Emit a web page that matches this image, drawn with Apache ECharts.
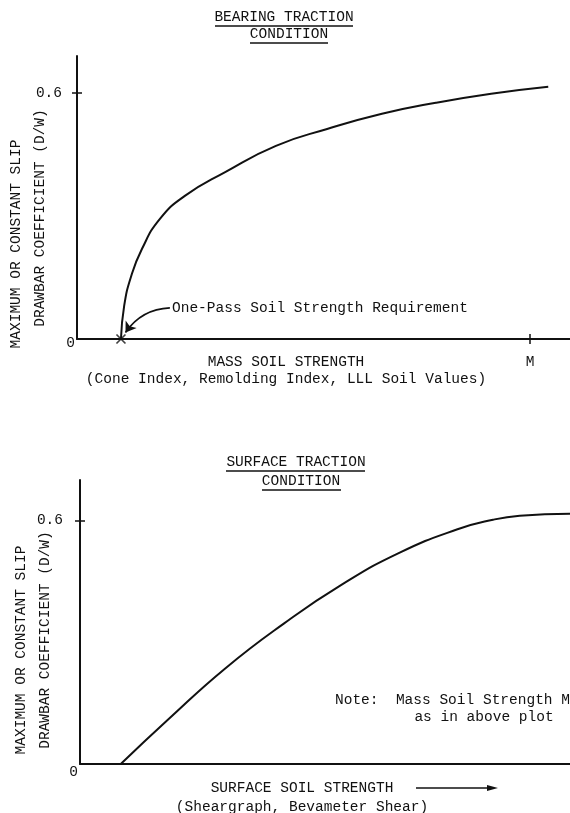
<!DOCTYPE html>
<html>
<head>
<meta charset="utf-8">
<script src="https://cdn.jsdelivr.net/npm/echarts@6/dist/echarts.min.js"></script>
<style>
html,body{margin:0;padding:0;background:#fff;}
#chart{width:570px;height:813px;}
</style>
</head>
<body>
<div id="chart"></div>
<script>
// Bearing traction curve (mass soil strength units, M = 10)
const bearingX = [0.97, 1.04, 1.19, 1.435, 1.83, 2.38, 3.27, 4.39, 5.52, 6.73, 7.92, 9.14, 10.4];
const bearingY = [0, 0.08, 0.151, 0.22, 0.293, 0.349, 0.407, 0.471, 0.512, 0.549, 0.576, 0.598, 0.615];
// Surface traction curve
const surfaceX = [0.9, 1.94, 3.2, 4.5, 5.78, 7.06, 8.32, 9.12, 9.71, 10.82];
const surfaceY = [0, 0.109, 0.235, 0.346, 0.442, 0.521, 0.578, 0.602, 0.612, 0.617];
const onePassX = 0.97;
const mValue = 10;
const yTickValues = [0.6];
const yLabelValues = [0, 0.6];
const arrowStart = [2.05, 0.076];
const arrowEnd = [1.07, 0.016];

const FONT = 'Liberation Mono';
const INK = '#111';
const zip = (xs, ys) => xs.map((x, i) => [x, ys[i]]);

function yLabelFmt(pad0, pad6) {
  return {
    show: true,
    customValues: yLabelValues,
    margin: 2,
    fontFamily: FONT, fontSize: 14.5, color: INK,
    formatter: v => v === 0 ? '{z|0}' : '{s|0.6}',
    rich: {
      z: {fontFamily: FONT, fontSize: 14.5, color: INK, padding: [pad0, 0, 0, 0]},
      s: {fontFamily: FONT, fontSize: 14.5, color: INK, padding: [0, pad6, 0, 0]}
    }
  };
}

function txt(x, y, text, opts) {
  return Object.assign({
    type: 'text', x: x, y: y,
    style: Object.assign({text: text, font: '14.5px "' + FONT + '"', fill: INK, align: 'center', verticalAlign: 'middle'}, (opts && opts.style) || {})
  }, opts && opts.rotation !== undefined ? {rotation: opts.rotation} : {});
}
function uline(x1, x2, y) {
  return {type: 'line', shape: {x1: x1, y1: y, x2: x2, y2: y}, style: {stroke: INK, lineWidth: 1.3}};
}

const chart = echarts.init(document.getElementById('chart'), null, {renderer: 'canvas'});
const axisLine = {show: true, lineStyle: {color: INK, width: 2}};

const option = {
  backgroundColor: '#fff',
  animation: false,
  grid: [
    {left: 77, right: 0, top: 56, bottom: 474, outerBoundsMode: 'none', containLabel: false},
    {left: 80, right: 0, top: 480, bottom: 49, outerBoundsMode: 'none', containLabel: false}
  ],
  xAxis: [
    {type: 'value', gridIndex: 0, min: 0, max: 10.88, axisLine: axisLine, splitLine: {show: false},
     axisTick: {show: true, customValues: [mValue], length: 5, lineStyle: {color: INK, width: 1.5}},
     axisLabel: {show: true, customValues: [mValue], formatter: () => 'M', margin: 16, fontFamily: FONT, fontSize: 14.5, color: INK}},
    {type: 'value', gridIndex: 0, min: 0, max: 10.88, position: 'bottom', axisLine: {show: false}, splitLine: {show: false},
     axisTick: {show: true, inside: true, customValues: [mValue], length: 5, lineStyle: {color: INK, width: 1.5}},
     axisLabel: {show: false}},
    {type: 'value', gridIndex: 1, min: 0, max: 10.82, axisLine: axisLine, splitLine: {show: false},
     axisTick: {show: false}, axisLabel: {show: false}}
  ],
  yAxis: [
    {type: 'value', gridIndex: 0, min: 0, max: 0.69, axisLine: axisLine, splitLine: {show: false},
     axisTick: {show: true, customValues: yTickValues, length: 5, lineStyle: {color: INK, width: 1.5}},
     axisLabel: yLabelFmt(8, 13)},
    {type: 'value', gridIndex: 0, min: 0, max: 0.69, position: 'left', axisLine: {show: false}, splitLine: {show: false},
     axisTick: {show: true, inside: true, customValues: yTickValues, length: 5, lineStyle: {color: INK, width: 1.5}},
     axisLabel: {show: false}},
    {type: 'value', gridIndex: 1, min: 0, max: 0.7, axisLine: axisLine, splitLine: {show: false},
     axisTick: {show: true, customValues: yTickValues, length: 5, lineStyle: {color: INK, width: 1.5}},
     axisLabel: yLabelFmt(16, 15)},
    {type: 'value', gridIndex: 1, min: 0, max: 0.7, position: 'left', axisLine: {show: false}, splitLine: {show: false},
     axisTick: {show: true, inside: true, customValues: yTickValues, length: 5, lineStyle: {color: INK, width: 1.5}},
     axisLabel: {show: false}}
  ],
  series: [
    {type: 'line', name: 'Bearing', xAxisIndex: 0, yAxisIndex: 0, data: zip(bearingX, bearingY),
     smooth: 0.5, showSymbol: false, lineStyle: {color: INK, width: 2}, z: 5},
    {type: 'scatter', xAxisIndex: 0, yAxisIndex: 0, data: [[onePassX, 0]],
     symbol: 'path://M0,0L10,10M10,0L0,10', symbolSize: 9,
     itemStyle: {color: 'none', borderColor: INK, borderWidth: 1.7}, z: 6},
    {type: 'lines', coordinateSystem: 'cartesian2d', xAxisIndex: 0, yAxisIndex: 0,
     data: [{coords: [arrowStart, arrowEnd]}], symbol: ['none', 'arrow'], symbolSize: 10,
     lineStyle: {color: INK, width: 1.6, opacity: 1, curveness: -0.25}, z: 6},
    {type: 'line', name: 'Surface', xAxisIndex: 2, yAxisIndex: 2, data: zip(surfaceX, surfaceY),
     smooth: 0.5, showSymbol: false, lineStyle: {color: INK, width: 2}, z: 5}
  ],
  graphic: [
    // top titles
    txt(284, 17, 'BEARING TRACTION'), uline(215, 353, 26),
    txt(289, 34, 'CONDITION'), uline(250, 328, 43),
    // top y label
    txt(16, 244, 'MAXIMUM OR CONSTANT SLIP', {rotation: Math.PI / 2}),
    txt(40, 218, 'DRAWBAR COEFFICIENT (D/W)', {rotation: Math.PI / 2}),
    // annotation
    txt(172, 308, 'One-Pass Soil Strength Requirement', {style: {align: 'left'}}),
    // top x labels
    txt(286, 362, 'MASS SOIL STRENGTH'),
    txt(286, 379, '(Cone Index, Remolding Index, LLL Soil Values)'),
    // bottom titles
    txt(296, 462, 'SURFACE TRACTION'), uline(226, 365, 471),
    txt(301, 481, 'CONDITION'), uline(262, 341, 490),
    // bottom y label
    txt(21, 650, 'MAXIMUM OR CONSTANT SLIP', {rotation: Math.PI / 2}),
    txt(45, 640, 'DRAWBAR COEFFICIENT (D/W)', {rotation: Math.PI / 2}),
    // note
    txt(335, 700, 'Note:  Mass Soil Strength M', {style: {align: 'left'}}),
    txt(484, 717, 'as in above plot'),
    // bottom x labels
    txt(302, 788, 'SURFACE SOIL STRENGTH'),
    {type: 'line', shape: {x1: 416, y1: 788, x2: 490, y2: 788}, style: {stroke: INK, lineWidth: 1.5}},
    {type: 'polygon', shape: {points: [[498, 788], [487, 785], [487, 791]]}, style: {fill: INK}},
    txt(302, 807, '(Sheargraph, Bevameter Shear)')
  ]
};
chart.setOption(option);
</script>
</body>
</html>
